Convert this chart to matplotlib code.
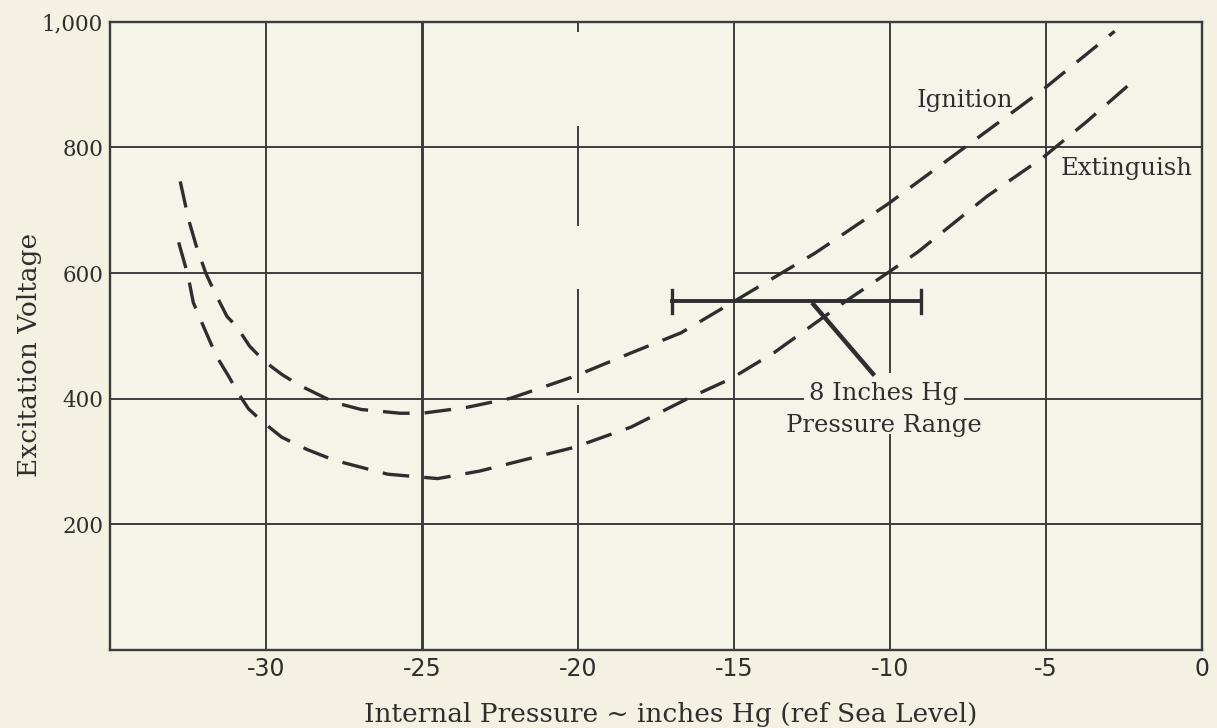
import matplotlib
matplotlib.use("Agg")
import matplotlib.pyplot as plt

# ---- data ----
ign_x = [-32.75, -32.48, -32.24, -31.93, -31.68, -31.25, -30.94, -30.53, -30.06, -29.5,
         -28.95, -27.8, -26.95, -25.7, -25.0, -23.6, -22.15,
         -20.1, -18.3, -16.7, -15.1, -12.4, -10.07, -7.5, -5.15, -2.8]
ign_y = [746, 685, 644, 600, 573, 531, 515, 484, 460, 439,
         422, 394, 383, 377, 377, 386, 401,
         436, 473, 505, 552, 632, 710, 804, 890, 985]

ext_x = [-32.8, -32.5, -32.33, -31.96, -31.59, -31.2, -30.88, -30.56, -30.1, -29.5, -28.67,
         -27.8, -26.1, -24.5, -23.15, -21.55,
         -20.1, -18.3, -16.5, -15.1, -13.7, -11.4, -10.0, -9.1, -6.9, -5.1, -3.7, -2.2]
ext_y = [649, 596, 553, 510, 468, 436, 408, 384, 363, 339, 319,
         302, 280, 273, 285, 305,
         323, 355, 400, 432, 474, 556, 603, 634, 722, 784, 841, 906]

range_x = [-17, -9]
range_y = 555

x_ticks = [-30, -25, -20, -15, -10, -5, 0]
x_ticklabels = ["-30", "-25", "-20", "-15", "-10", "-5", "0"]
y_ticks = [200, 400, 600, 800, 1000]
y_ticklabels = ["200", "400", "600", "800", "1,000"]

# ---- style ----
paper = "#f4f1e2"
ink = "#2e2e2e"
grid_c = "#3c3c3c"
serif = ["DejaVu Serif"]
sans = ["DejaVu Sans"]

fig = plt.figure(figsize=(12.17, 7.28), dpi=100, facecolor=paper)
ax = fig.add_axes([0.0904, 0.107, 0.8973, 0.863])
ax.set_facecolor("#f5f4e9")
ax.set_xlim(-35, 0)
ax.set_ylim(0, 1000)

# grid (drawn manually to reproduce the broken lines of the original)
glw = 1.4
for xv in [-30, -15, -5]:
    ax.axvline(xv, color=grid_c, lw=glw, zorder=1)
ax.axvline(-25, color=grid_c, lw=2.1, zorder=1)
# -20 line is broken into segments
for y0, y1 in [(985, 1000), (677, 832), (411, 573), (0, 389)]:
    ax.plot([-20, -20], [y0, y1], color=grid_c, lw=glw, zorder=1)
# -10 line (broken by the annotation text)
ax.plot([-10, -10], [443, 1000], color=grid_c, lw=glw, zorder=1)
ax.plot([-10, -10], [0, 342], color=grid_c, lw=glw, zorder=1)
for yv in [200, 800]:
    ax.axhline(yv, color=grid_c, lw=glw, zorder=1)
ax.plot([-35, -25], [600, 600], color=grid_c, lw=glw, zorder=1)
ax.plot([-15, 0], [600, 600], color=grid_c, lw=glw, zorder=1)
ax.plot([-35, -12.8], [400, 400], color=grid_c, lw=glw, zorder=1)
ax.plot([-7.6, 0], [400, 400], color=grid_c, lw=glw, zorder=1)

for s in ax.spines.values():
    s.set_color(grid_c)
    s.set_linewidth(1.7)

# curves
ax.plot(ign_x, ign_y, color=ink, lw=2.4, dashes=(8, 4.5), zorder=3,
        dash_capstyle="butt", dash_joinstyle="round")
ax.plot(ext_x, ext_y, color=ink, lw=2.4, dashes=(8, 4.5), zorder=3,
        dash_capstyle="butt", dash_joinstyle="round")

# pressure range bar
ax.plot(range_x, [range_y, range_y], color=ink, lw=2.8, zorder=4)
for xe in range_x:
    ax.plot([xe, xe], [range_y - 18, range_y + 18], color=ink, lw=2.4, zorder=4)
ax.plot([-12.5, -10.5], [range_y - 2, 437], color=ink, lw=3.2, zorder=4,
        solid_capstyle="butt")

# labels on the chart
fs_ann = 17.5
ax.text(-7.6, 875, "Ignition", family=serif, fontsize=fs_ann, color=ink,
        ha="center", va="center", zorder=5)
ax.text(-0.3, 766, "Extinguish", family=serif, fontsize=fs_ann, color=ink,
        ha="right", va="center", zorder=5)
ax.text(-10.2, 409, "8 Inches Hg", family=serif, fontsize=fs_ann, color=ink,
        ha="center", va="center", zorder=5)
ax.text(-10.2, 358, "Pressure Range", family=serif, fontsize=fs_ann, color=ink,
        ha="center", va="center", zorder=5)

# ticks
ax.set_xticks(x_ticks)
ax.set_xticklabels(x_ticklabels, family=sans, fontsize=17, color=ink)
ax.set_yticks(y_ticks)
ax.set_yticklabels(y_ticklabels, family=serif, fontsize=15.5, color=ink)
ax.tick_params(axis="both", length=0)
ax.tick_params(axis="x", pad=5)
ax.tick_params(axis="y", pad=5)

ax.set_xlabel("Internal Pressure ~ inches Hg (ref Sea Level)", family=serif,
              fontsize=19, color=ink)
ax.xaxis.set_label_coords(0.513, -0.082)
ax.set_ylabel("Excitation Voltage", family=serif, fontsize=19, color=ink)
ax.yaxis.set_label_coords(-0.062, 0.47)

fig.savefig("out.png", dpi=100, facecolor=paper)
